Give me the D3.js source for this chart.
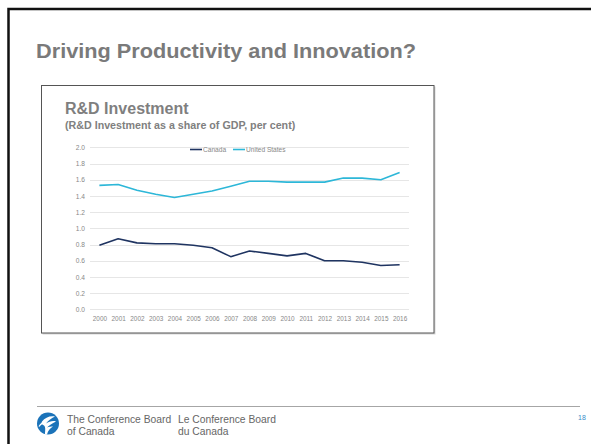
<!DOCTYPE html>
<html>
<head>
<meta charset="utf-8">
<script src="https://cdn.jsdelivr.net/npm/d3@7"></script>
<style>
  html, body { margin: 0; padding: 0; background: #fff; }
  svg { display: block; font-family: "Liberation Sans", Arial, sans-serif; }
</style>
</head>
<body>
<script>
// R&D investment as a share of GDP, per cent
const years = ["2000","2001","2002","2003","2004","2005","2006","2007","2008",
               "2009","2010","2011","2012","2013","2014","2015","2016"];
const canada = [0.79, 0.87, 0.82, 0.81, 0.81, 0.79, 0.76, 0.65, 0.72,
                0.69, 0.66, 0.69, 0.60, 0.60, 0.58, 0.54, 0.55];
const unitedStates = [1.53, 1.54, 1.47, 1.42, 1.38, 1.42, 1.46, 1.52, 1.58,
                      1.58, 1.57, 1.57, 1.57, 1.62, 1.62, 1.60, 1.69];
const yTicks = [0.0, 0.2, 0.4, 0.6, 0.8, 1.0, 1.2, 1.4, 1.6, 1.8, 2.0];
const seriesNames = ["Canada", "United States"];
const seriesColors = ["#1f3461", "#2db7d8"];

const W = 591, H = 444;
const svg = d3.select("body").append("svg").attr("width", W).attr("height", H);

// slide frame
svg.append("rect").attr("width", W).attr("height", H).attr("fill", "#fff");
svg.append("path").attr("d", `M8.5,${H} L8.5,9 L${W},9`)
  .attr("fill", "none").attr("stroke", "#111").attr("stroke-width", 2.5);

// slide title
svg.append("text").attr("x", 36).attr("y", 58)
  .attr("font-size", 19.5).attr("font-weight", "bold").attr("fill", "#7a7a7a")
  .attr("textLength", 380).attr("lengthAdjust", "spacingAndGlyphs")
  .text("Driving Productivity and Innovation?");

// chart panel
svg.append("rect").attr("x", 42.5).attr("y", 86.5).attr("width", 393).attr("height", 248)
  .attr("fill", "#bbb").attr("opacity", 0.6);
svg.append("rect").attr("x", 41.5).attr("y", 85.5).attr("width", 392.5).attr("height", 247.5)
  .attr("fill", "#fff").attr("stroke", "#555").attr("stroke-width", 1);

svg.append("text").attr("x", 65).attr("y", 114)
  .attr("font-size", 16).attr("font-weight", "bold").attr("fill", "#7f7f7f")
  .text("R&D Investment");
svg.append("text").attr("x", 65).attr("y", 128.5)
  .attr("font-size", 10.7).attr("font-weight", "bold").attr("fill", "#808080")
  .text("(R&D Investment as a share of GDP, per cent)");

// scales
const x = d3.scalePoint().domain(years).range([90, 409]).padding(0.5);
const y = d3.scaleLinear().domain([0, 2]).range([309.3, 147.3]);

// gridlines
svg.append("g").selectAll("line").data(yTicks).join("line")
  .attr("x1", 90).attr("x2", 409)
  .attr("y1", d => Math.round(y(d)) + 0.5).attr("y2", d => Math.round(y(d)) + 0.5)
  .attr("stroke", "#e6e6e6").attr("stroke-width", 1);

// y axis labels
const yAxis = svg.append("g").attr("transform", "translate(90,0)")
  .call(d3.axisLeft(y).tickValues(yTicks).tickFormat(d3.format(".1f")).tickSize(0).tickPadding(5));
yAxis.select(".domain").remove();
yAxis.selectAll("text").attr("font-size", 6.6).attr("fill", "#888")
  .attr("font-family", "'Liberation Sans', Arial, sans-serif");

// x axis labels
const xAxis = svg.append("g").attr("transform", "translate(0,313)")
  .call(d3.axisBottom(x).tickSize(0).tickPadding(3));
xAxis.select(".domain").remove();
xAxis.selectAll("text").attr("font-size", 6.4).attr("fill", "#888")
  .attr("font-family", "'Liberation Sans', Arial, sans-serif");

// lines
const line = d3.line().x((d, i) => x(years[i])).y(d => y(d));
[canada, unitedStates].forEach((vals, k) => {
  svg.append("path").datum(vals).attr("d", line)
    .attr("fill", "none").attr("stroke", seriesColors[k])
    .attr("stroke-width", 1.6).attr("stroke-linejoin", "round");
});

// legend
const legendX = [190, 233];
seriesNames.forEach((name, k) => {
  const g = svg.append("g").attr("transform", `translate(${legendX[k]},149.5)`);
  g.append("line").attr("x1", 0).attr("x2", 12).attr("stroke", seriesColors[k]).attr("stroke-width", 1.6);
  g.append("text").attr("x", 13).attr("y", 2.2).attr("font-size", 6.6).attr("fill", "#888").text(name);
});

// footer
svg.append("line").attr("x1", 37).attr("x2", 580).attr("y1", 406.5).attr("y2", 406.5)
  .attr("stroke", "#a6a6a6").attr("stroke-width", 1);

const logo = svg.append("g").attr("transform", "translate(48,423.5)");
logo.append("circle").attr("r", 11).attr("fill", "#1b73b9");
logo.append("path")
  .attr("d", "M-6,-2 C-3,-6 2,-8 7,-7 C3,-5 0,-3 -2,0 C1,-2 5,-3 8,-2 C4,0 1,2 -1,4 C1,3 3,3 5,3 C2,5 0,7 -1,11 L-3,11 C-3,7 -2,4 -4,2 C-6,1 -7,0 -6,-2 Z")
  .attr("fill", "#fff");
logo.append("path").attr("d", "M-9,3 C-7,0 -5,-1 -3,-1").attr("stroke", "#fff").attr("stroke-width", 1.3).attr("fill", "none");

const footerText = [["The Conference Board", "of Canada", 67], ["Le Conference Board", "du Canada", 178]];
footerText.forEach(([a, b, fx]) => {
  svg.append("text").attr("x", fx).attr("y", 423.3).attr("font-size", 10.3).attr("fill", "#666").text(a);
  svg.append("text").attr("x", fx).attr("y", 435.3).attr("font-size", 10.3).attr("fill", "#666").text(b);
});
svg.append("text").attr("x", 582).attr("y", 420).attr("font-size", 7).attr("fill", "#3a8cc8")
  .attr("text-anchor", "middle").text("18");
</script>
</body>
</html>
